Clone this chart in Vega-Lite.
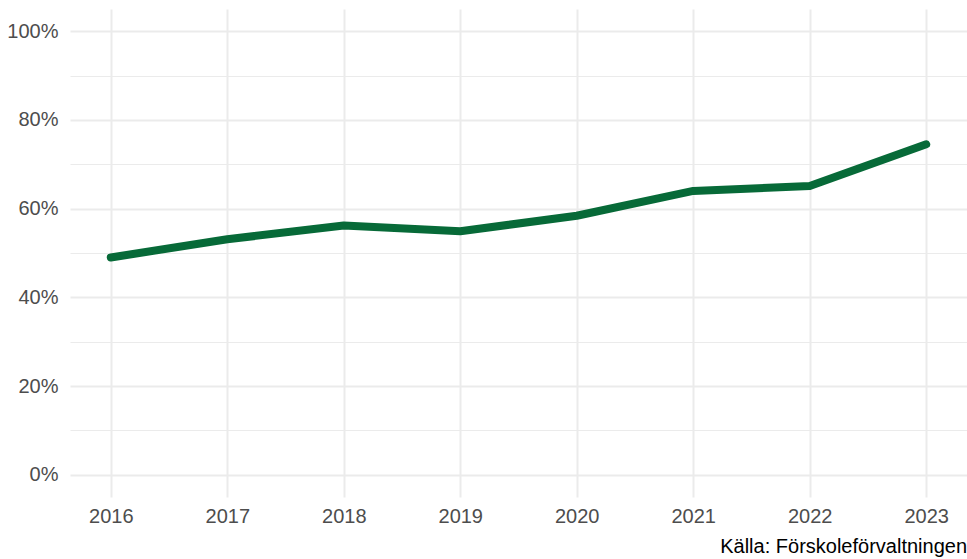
{
  "$schema": "https://vega.github.io/schema/vega-lite/v6.json",
  "width": 897,
  "height": 488,
  "autosize": {"type": "none"},
  "padding": {"left": 70, "top": 9, "right": 0, "bottom": 62},
  "background": "white",
  "config": {
    "view": {"stroke": null},
    "font": "Liberation Sans"
  },
  "title": {
    "text": "Källa: Förskoleförvaltningen",
    "orient": "bottom",
    "anchor": "end",
    "fontSize": 20,
    "fontWeight": "normal",
    "font": "Liberation Sans",
    "color": "#000000",
    "offset": 11
  },
  "data": {
    "values": [
      {"year": 2016, "share": 49.0},
      {"year": 2017, "share": 53.1},
      {"year": 2018, "share": 56.2},
      {"year": 2019, "share": 54.9},
      {"year": 2020, "share": 58.4},
      {"year": 2021, "share": 64.0},
      {"year": 2022, "share": 65.1},
      {"year": 2023, "share": 74.5}
    ]
  },
  "mark": {"type": "line", "color": "#076a38", "strokeWidth": 8, "strokeCap": "round", "strokeJoin": "round"},
  "encoding": {
    "x": {
      "field": "year",
      "type": "quantitative",
      "scale": {"domain": [2015.65, 2023.35], "nice": false, "zero": false},
      "axis": {
        "title": null,
        "values": [2016, 2017, 2018, 2019, 2020, 2021, 2022, 2023],
        "format": "d",
        "domain": false,
        "ticks": false,
        "grid": true,
        "gridColor": "#EBEBEB",
        "gridWidth": 2,
        "labelFontSize": 20,
        "labelColor": "#4D4D4D",
        "labelPadding": 9,
        "labelFont": "Liberation Sans"
      }
    },
    "y": {
      "field": "share",
      "type": "quantitative",
      "scale": {"domain": [-5, 105], "nice": false, "zero": false},
      "axis": {
        "title": null,
        "values": [0, 10, 20, 30, 40, 50, 60, 70, 80, 90, 100],
        "labelExpr": "datum.value % 20 === 0 ? datum.value + '%' : ''",
        "domain": false,
        "ticks": false,
        "grid": true,
        "gridColor": "#EBEBEB",
        "gridWidth": {"condition": {"test": "datum.value % 20 === 0", "value": 2}, "value": 1},
        "labelFontSize": 20,
        "labelColor": "#4D4D4D",
        "labelPadding": 12,
        "labelFont": "Liberation Sans"
      }
    }
  }
}
